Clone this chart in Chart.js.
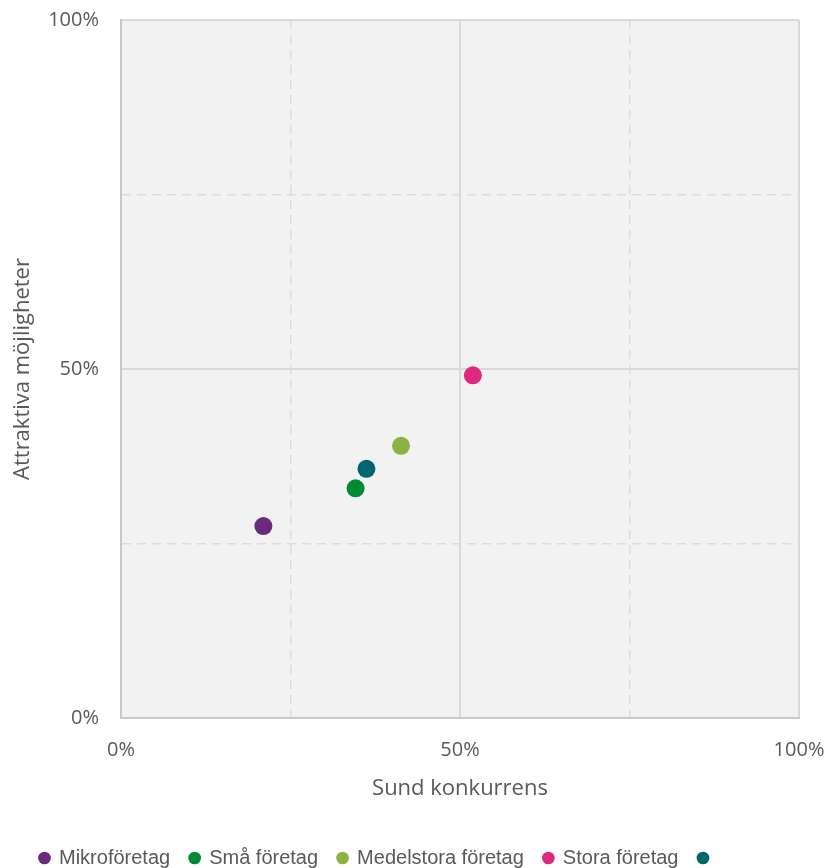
<!DOCTYPE html>
<html>
<head>
<meta charset="utf-8">
<script src="https://cdn.jsdelivr.net/npm/chart.js@4/dist/chart.umd.min.js"></script>
<style>
html,body{margin:0;padding:0;background:#fff;}
#wrap{width:829px;height:868px;position:relative;}
</style>
</head>
<body>
<div id="wrap"><canvas id="c" width="829" height="868"></canvas></div>
<script>
const seriesLabels = ['Mikroföretag', 'Små företag', 'Medelstora företag', 'Stora företag', ''];
const xValues = [21.0, 34.6, 41.3, 51.9, 36.2];
const yValues = [27.5, 32.9, 39.0, 49.1, 35.7];
const seriesColors = ['#6B2A7C', '#008A35', '#8BB341', '#E0287E', '#00666E'];
const tickValues = [0, 50, 100];
const xTitle = 'Sund konkurrens';
const yTitle = 'Attraktiva möjligheter';

const datasets = seriesLabels.map((lab, i) => ({
  label: lab,
  data: [{x: xValues[i], y: yValues[i]}],
  backgroundColor: seriesColors[i],
  borderColor: seriesColors[i],
  pointRadius: 9,
  pointHoverRadius: 9,
  pointBorderWidth: 0
}));

const bgPlugin = {
  id: 'plotBg',
  afterLayout(chart) {
    if (chart.legend) {
      chart.legend.left += 10;
      chart.legend.top += 10;
    }
  },
  beforeDraw(chart) {
    const {ctx, chartArea: a} = chart;
    ctx.save();
    ctx.fillStyle = '#F2F2F2';
    ctx.fillRect(a.left, a.top, a.right - a.left, a.bottom - a.top);
    ctx.restore();
  }
};

const tickFont = {family: "'Open Sans', sans-serif", size: 20};
const isMinor = ctx => ctx.tick && (ctx.tick.value === 25 || ctx.tick.value === 75);
const gridColor = ctx => isMinor(ctx) ? '#DCDCDC' : '#D9D9D9';
const gridWidth = ctx => isMinor(ctx) ? 1.5 : 2;
const gridDash = ctx => isMinor(ctx) ? [9, 6] : [];
const tickCb = v => tickValues.includes(v) ? v + '%' : '';

new Chart(document.getElementById('c'), {
  type: 'scatter',
  data: {datasets},
  plugins: [bgPlugin],
  options: {
    responsive: false,
    animation: false,
    devicePixelRatio: 1,
    layout: {padding: {left: 10, right: 30, top: 20, bottom: 0}},
    plugins: {
      tooltip: {enabled: false},
      legend: {
        position: 'bottom',
        align: 'start',
        labels: {
          usePointStyle: true,
          pointStyle: 'circle',
          boxWidth: 9,
          boxHeight: 9,
          padding: 20,
          color: '#595959',
          font: {family: "'Liberation Sans', sans-serif", size: 20}
        }
      }
    },
    scales: {
      x: {
        type: 'linear',
        min: 0, max: 100,
        ticks: {stepSize: 25, callback: tickCb, color: '#595959', font: tickFont, padding: 20, maxRotation: 0, autoSkip: false},
        grid: {color: gridColor, lineWidth: gridWidth, drawTicks: false},
        border: {color: '#C8C8C8', width: 2, dash: gridDash},
        title: {display: true, text: xTitle, color: '#595959', font: {family: "'Open Sans', sans-serif", size: 22}, padding: {top: 0, bottom: 16}},
        afterFit(s) { s.height = 100; s.paddingLeft = 0; s.paddingRight = 0; }
      },
      y: {
        type: 'linear',
        min: 0, max: 100,
        ticks: {stepSize: 25, callback: tickCb, color: '#595959', font: tickFont, padding: 22, autoSkip: false},
        grid: {color: gridColor, lineWidth: gridWidth, drawTicks: false},
        border: {color: '#C8C8C8', width: 2, dash: gridDash},
        title: {display: true, text: yTitle, color: '#595959', font: {family: "'Open Sans', sans-serif", size: 22}, padding: {top: 0, bottom: 0}},
        afterFit(s) { s.width = 111; s.paddingTop = 0; s.paddingBottom = 0; }
      }
    }
  }
});
</script>
</body>
</html>
